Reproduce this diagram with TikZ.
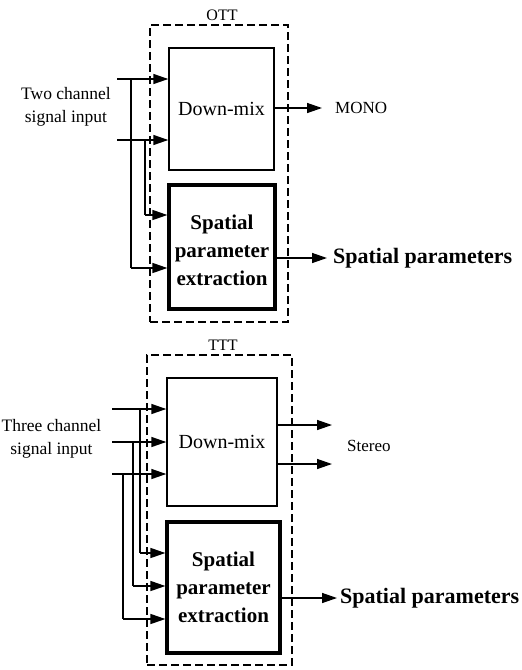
\documentclass[tikz,border=0pt]{standalone}
\usepackage{fontspec}
\setmainfont{Liberation Serif}
\usetikzlibrary{arrows.meta}
\begin{document}
\begin{tikzpicture}[x=1pt,y=-1pt,
  thinbox/.style={draw,line width=1.4pt,inner sep=0pt,fill=white},
  thickbox/.style={draw,line width=3.2pt,inner sep=0pt,fill=white},
  grp/.style={draw,line width=1.8pt,dash pattern=on 8pt off 4pt,inner sep=0pt},
  arr/.style={line width=1.4pt,-{Triangle[length=15pt,width=10pt]}},
  wire/.style={line width=1.4pt},
  lbl/.style={font=\fontsize{17.5}{23}\selectfont,align=center,inner sep=0pt},
  grplbl/.style={font=\fontsize{16}{19}\selectfont,inner sep=0pt},
  dmtext/.style={font=\fontsize{20}{24}\selectfont},
  sptext/.style={font=\fontsize{21}{28}\selectfont\bfseries,align=center},
  outtext/.style={font=\fontsize{17}{20}\selectfont,anchor=west,inner sep=0pt},
  outbold/.style={font=\fontsize{22}{26}\selectfont\bfseries,anchor=west,inner sep=0pt}]
\useasboundingbox (0,0) rectangle (522,670);
\fill[white] (0,0) rectangle (522,670);

% ---------------- OTT ----------------
\node[grp,minimum width=138pt,minimum height=297pt] (ott) at (219,173.5) {};
\node[grplbl] (ottl) at (222,15) {OTT};
\node[thinbox,minimum width=105pt,minimum height=122pt] (dm1) at (221.5,109) {};
\node[dmtext] (dm1t) at (dm1.center) {Down-mix};
\node[thickbox,minimum width=106pt,minimum height=124pt] (sp1) at (222,247) {};
\node[sptext] (sp1t) at (222,250) {Spatial\\parameter\\extraction};

\node[lbl] (in1t) at (66,106.5) {Two channel\\signal input};

\coordinate (a1) at (117,79);
\coordinate (a2) at (117,140);
\coordinate (b1) at (131,79);
\coordinate (b2) at (145,140);
\coordinate (c1) at (131,268);
\coordinate (c2) at (145,215);
\draw[arr] (a1) -- (a1 -| dm1.west);
\draw[arr] (a2) -- (a2 -| dm1.west);
\draw[wire] (b1) -- (c1);
\draw[arr] (c1) -- (c1 -| sp1.west);
\draw[wire] (b2) -- (c2);
\draw[arr] (c2) -- (c2 -| sp1.west);

\coordinate (mono) at (322,108);
\draw[arr] (mono -| dm1.east) -- (mono);
\node[outtext] (monot) at (335,108) {MONO};
\coordinate (sp1o) at (327,258);
\draw[arr] (sp1o -| sp1.east) -- (sp1o);
\node[outbold] (sp1ot) at (333,258) {Spatial parameters};

% ---------------- TTT ----------------
\node[grp,minimum width=145pt,minimum height=310pt] (ttt) at (219.5,510) {};
\node[grplbl] (tttl) at (223,345) {TTT};
\node[thinbox,minimum width=110pt,minimum height=128pt] (dm2) at (222,442) {};
\node[dmtext] (dm2t) at (dm2.center) {Down-mix};
\node[thickbox,minimum width=113pt,minimum height=131pt] (sp2) at (223.5,587.5) {};
\node[sptext] (sp2t) at (223.5,587.5) {Spatial\\parameter\\extraction};

\node[lbl] (in2t) at (51.5,438.5) {Three channel\\signal input};

\coordinate (d1) at (112,409);
\coordinate (d2) at (112,442);
\coordinate (d3) at (112,474);
\coordinate (e1) at (140,409);
\coordinate (e2) at (133,442);
\coordinate (e3) at (123,474);
\coordinate (f1) at (140,553);
\coordinate (f2) at (133,586);
\coordinate (f3) at (123,619);
\draw[arr] (d1) -- (d1 -| dm2.west);
\draw[arr] (d2) -- (d2 -| dm2.west);
\draw[arr] (d3) -- (d3 -| dm2.west);
\draw[wire] (e1) -- (f1);
\draw[wire] (e2) -- (f2);
\draw[wire] (e3) -- (f3);
\draw[arr] (f1) -- (f1 -| sp2.west);
\draw[arr] (f2) -- (f2 -| sp2.west);
\draw[arr] (f3) -- (f3 -| sp2.west);

\coordinate (st1) at (332,425);
\coordinate (st2) at (332,464);
\draw[arr] (st1 -| dm2.east) -- (st1);
\draw[arr] (st2 -| dm2.east) -- (st2);
\node[outtext] (stt) at (347,446) {Stereo};
\coordinate (sp2o) at (337,598);
\draw[arr] (sp2o -| sp2.east) -- (sp2o);
\node[outbold] (sp2ot) at (340,598) {Spatial parameters};
\end{tikzpicture}
\end{document}
